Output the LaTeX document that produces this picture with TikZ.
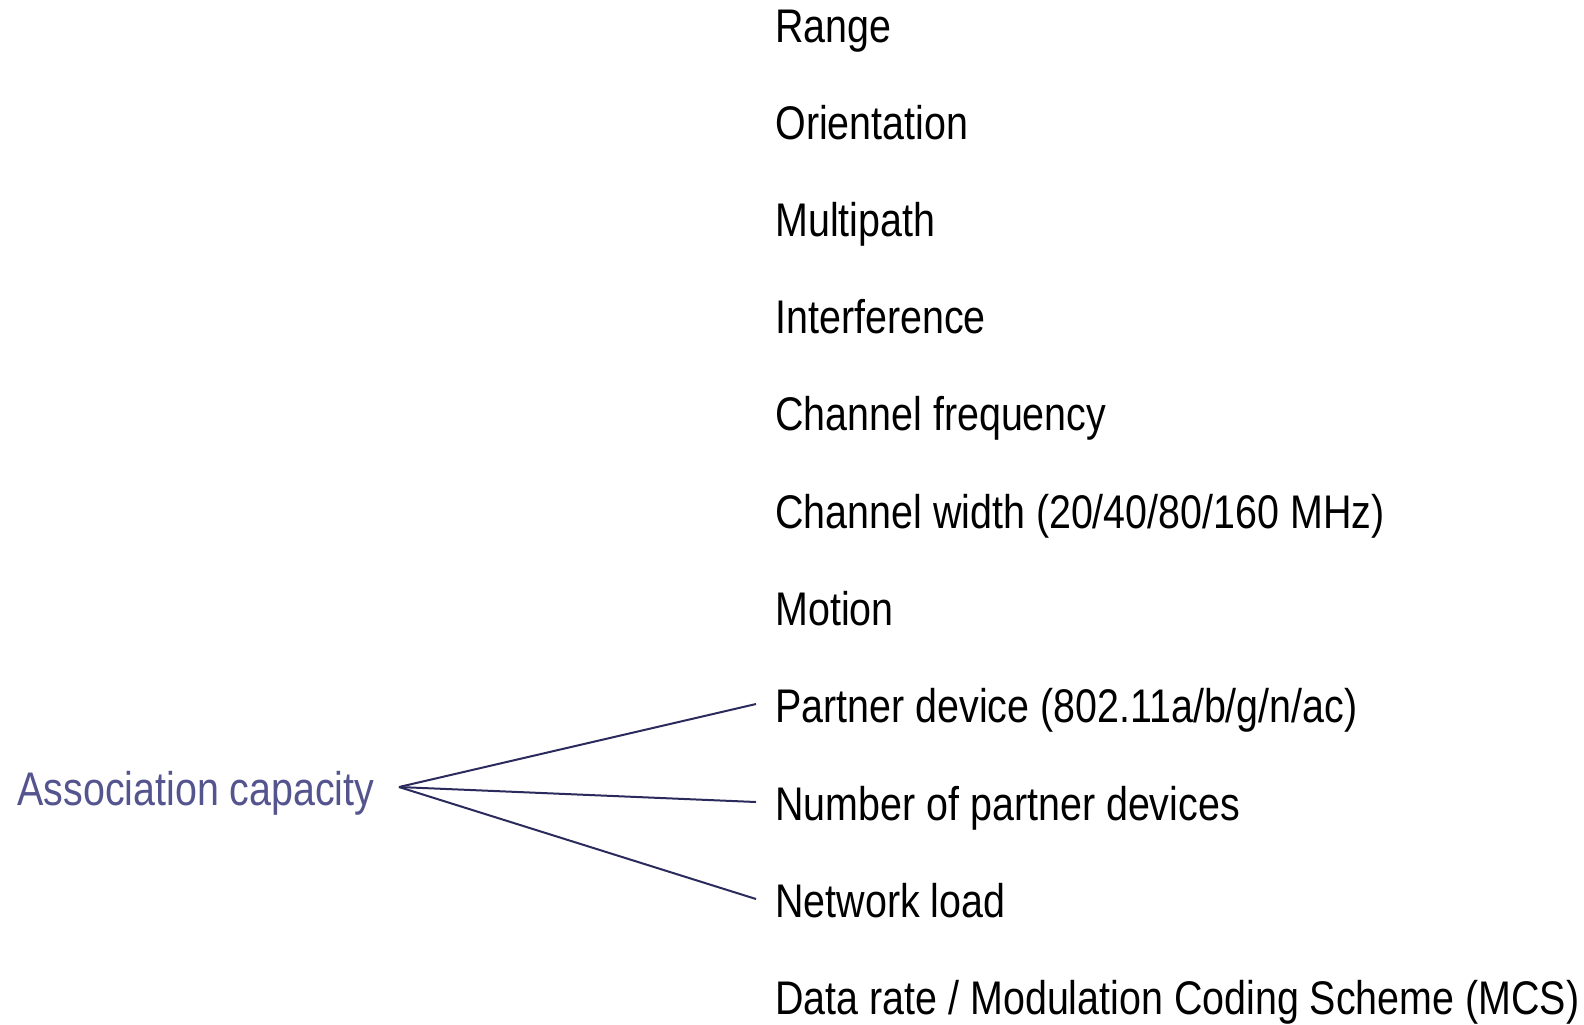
\documentclass[tikz,border=0pt]{standalone}
\usepackage{fontspec}
\setmainfont{Liberation Sans}[FakeStretch=0.835]
\usepackage{tikz}

\definecolor{assocblue}{RGB}{84,84,142}
\definecolor{linenavy}{RGB}{42,42,92}

\tikzset{
    factor/.style={anchor=base west, inner xsep=9.5pt, inner ysep=0pt,
        text height=18pt, text depth=0pt, font=\fontsize{23.6pt}{28pt}\selectfont},
    link/.style={draw=linenavy, line width=1pt}
}

\begin{document}
\begin{tikzpicture}[x=0.5pt, y=-0.5pt]
                \useasboundingbox (0, 0) rectangle (1584, 1024);

                \node [factor, text=assocblue, inner xsep=0pt] (assoc) at (17, 805) {Association capacity};
                \coordinate (apex) at (399, 787);

                \node [factor] (range) at (756, 42) {Range};
                \node [factor] (orient) at (756, 139) {Orientation};
                \node [factor] (multipath) at (756, 236) {Multipath};
                \node [factor] (interf) at (756, 333) {Interference};
                \node [factor] (chfreq) at (756, 430) {Channel frequency};
                \node [factor] (chwidth) at (756, 528) {Channel width (20/40/80/160 MHz)};
                \node [factor] (motion) at (756, 625) {Motion};
                \node [factor] (partner) at (756, 722) {Partner device (802.11a/b/g/n/ac)};
                \node [factor] (number) at (756, 820) {Number of partner devices};
                \node [factor] (load) at (756, 917) {Network load};
                \node [factor] (mcs) at (756, 1014) {Data rate / Modulation Coding Scheme (MCS)};

                \draw [link] (apex) to (partner.west);
                \draw [link] (apex) to (number.west);
                \draw [link] (apex) to (load.west);
            \end{tikzpicture}
\end{document}
